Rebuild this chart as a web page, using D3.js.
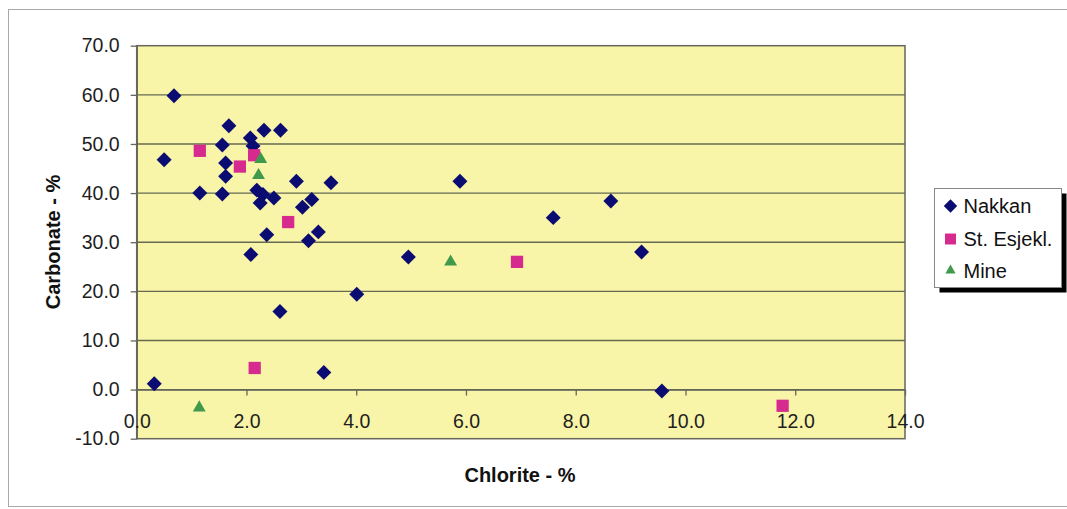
<!DOCTYPE html>
<html>
<head>
<meta charset="utf-8">
<script src="https://cdn.jsdelivr.net/npm/d3@7"></script>
<style>
  body { margin: 0; background: #fff; }
  svg { display: block; font-family: "Liberation Sans", Arial, sans-serif; }
</style>
</head>
<body>
<div id="chart"></div>
<script>
// Series values (chlorite %, carbonate %)
var nakkanX = [0.32, 0.50, 0.68, 1.15, 1.56, 1.56, 1.62, 1.62, 1.68, 2.07, 2.12, 2.08, 2.19, 2.30, 2.25, 2.32, 2.37,
               2.50, 2.61, 2.62, 2.91, 3.02, 3.13, 3.19, 3.31, 3.41, 3.54, 4.01, 4.95, 5.89, 7.59, 8.64, 9.20, 9.57];
var nakkanY = [1.2, 46.8, 59.8, 40.0, 49.8, 39.8, 46.1, 43.4, 53.7, 51.2, 49.6, 27.5, 40.6, 39.7, 38.0, 52.8, 31.5,
               39.0, 15.9, 52.8, 42.4, 37.1, 30.3, 38.7, 32.1, 3.5, 42.1, 19.4, 27.0, 42.4, 35.0, 38.4, 28.0, -0.3];
var esjeklX = [1.15, 1.88, 2.14, 2.15, 2.76, 6.93, 11.77];
var esjeklY = [48.6, 45.4, 47.7, 4.4, 34.1, 26.0, -3.3];
var mineX = [1.14, 2.26, 2.22, 5.72];
var mineY = [-3.7, 46.9, 43.6, 26.0];

var seriesNames = ['Nakkan', 'St. Esjekl.', 'Mine'];
var xTicks = [0, 2, 4, 6, 8, 10, 12, 14];
var yTicks = [-10, 0, 10, 20, 30, 40, 50, 60, 70];

var W = 1067, H = 509;
var plotL = 136.7, plotR = 905, plotT = 45.7, plotB = 438.7;

var colors = { 'Nakkan': '#0b0c72', 'St. Esjekl.': '#d62a8e', 'Mine': '#3f9a4c' };
var shapes = { 'Nakkan': 'diamond', 'St. Esjekl.': 'square', 'Mine': 'triangle' };

var series = [
  { name: 'Nakkan', pts: nakkanX.map(function(x, i) { return { x: x, y: nakkanY[i] }; }) },
  { name: 'St. Esjekl.', pts: esjeklX.map(function(x, i) { return { x: x, y: esjeklY[i] }; }) },
  { name: 'Mine', pts: mineX.map(function(x, i) { return { x: x, y: mineY[i] }; }) }
];

var svg = d3.select('#chart').append('svg')
  .attr('width', W).attr('height', H);

// chart frame
svg.append('rect')
  .attr('x', 8.5).attr('y', 9.5).attr('width', W + 10).attr('height', 497)
  .attr('fill', '#fff').attr('stroke', '#a9a9a9').attr('stroke-width', 1);

var x = d3.scaleLinear().domain([0, 14]).range([plotL, plotR]);
var y = d3.scaleLinear().domain([-10, 70]).range([plotB, plotT]);

// plot area
svg.append('rect')
  .attr('x', plotL).attr('y', plotT)
  .attr('width', plotR - plotL).attr('height', plotB - plotT)
  .attr('fill', '#f8f4a8');

// gridlines
svg.append('g').selectAll('line')
  .data(yTicks.filter(function(d) { return d > -10 && d < 70; }))
  .enter().append('line')
  .attr('x1', plotL).attr('x2', plotR)
  .attr('y1', function(d) { return y(d); }).attr('y2', function(d) { return y(d); })
  .attr('stroke', '#656a50').attr('stroke-width', 1.4);

// plot border
svg.append('rect')
  .attr('x', plotL).attr('y', plotT)
  .attr('width', plotR - plotL).attr('height', plotB - plotT)
  .attr('fill', 'none').attr('stroke', '#66665c').attr('stroke-width', 1.5);

var fmt = function(d) { return d.toFixed(1); };

var y_axis = d3.axisLeft(y)
  .tickValues(yTicks)
  .tickFormat(fmt)
  .tickSizeInner(6)
  .tickSizeOuter(0)
  .tickPadding(11);

var yg = svg.append('g')
  .attr('transform', 'translate(' + plotL + ',0)')
  .call(y_axis);

var x_axis = d3.axisBottom(x)
  .tickValues(xTicks)
  .tickFormat(fmt)
  .tickSizeInner(6)
  .tickSizeOuter(0)
  .tickPadding(19);

var xg = svg.append('g')
  .attr('transform', 'translate(0,' + y(0) + ')')
  .call(x_axis);

[xg, yg].forEach(function(g) {
  g.select('.domain').attr('stroke', '#66665c').attr('stroke-width', 1.5);
  g.selectAll('.tick line').attr('stroke', '#66665c').attr('stroke-width', 1.3);
  g.selectAll('.tick text')
    .attr('fill', '#1e1e1e')
    .style('font-size', '19.5px')
    .style('font-family', '"Liberation Sans", Arial, sans-serif');
});

// markers
function symbolFor(name) {
  if (shapes[name] === 'diamond') return d3.symbol().type(d3.symbolSquare).size(112)();
  if (shapes[name] === 'square') return d3.symbol().type(d3.symbolSquare).size(150)();
  return d3.symbol().type(d3.symbolTriangle).size(72)();
}

series.forEach(function(s) {
  svg.append('g').selectAll('path')
    .data(s.pts)
    .enter().append('path')
    .attr('d', symbolFor(s.name))
    .attr('transform', function(d) {
      return 'translate(' + x(d.x) + ',' + y(d.y) + ')' + (shapes[s.name] === 'diamond' ? ' rotate(45)' : '');
    })
    .attr('fill', colors[s.name]);
});

// axis titles
svg.append('text')
  .attr('x', 520).attr('y', 482)
  .attr('text-anchor', 'middle')
  .style('font-size', '20px').style('font-weight', 'bold')
  .attr('fill', '#111')
  .text('Chlorite - %');

svg.append('text')
  .attr('transform', 'translate(60,' + 242 + ') rotate(-90)')
  .attr('text-anchor', 'middle')
  .style('font-size', '20px').style('font-weight', 'bold')
  .attr('fill', '#111')
  .text('Carbonate - %');

// legend
var lg = svg.append('g').attr('transform', 'translate(934.5,188.5)');
lg.append('rect')
  .attr('x', 5).attr('y', 5).attr('width', 127).attr('height', 99)
  .attr('fill', '#000');
lg.append('rect')
  .attr('width', 127).attr('height', 99)
  .attr('fill', '#fff').attr('stroke', '#888').attr('stroke-width', 1);

var items = lg.selectAll('g.item')
  .data(seriesNames)
  .enter().append('g')
  .attr('class', 'item')
  .attr('transform', function(d, i) { return 'translate(0,' + [17.5, 50.5, 82][i] + ')'; });

items.append('path')
  .attr('d', function(d) {
    if (shapes[d] === 'diamond') return d3.symbol().type(d3.symbolSquare).size(90)();
    if (shapes[d] === 'square') return d3.symbol().type(d3.symbolSquare).size(120)();
    return d3.symbol().type(d3.symbolTriangle).size(45)();
  })
  .attr('transform', function(d) {
    return 'translate(16,0)' + (shapes[d] === 'diamond' ? ' rotate(45)' : '');
  })
  .attr('fill', function(d) { return colors[d]; });

items.append('text')
  .attr('x', 29).attr('dy', '0.36em')
  .style('font-size', '20px')
  .attr('fill', '#111')
  .text(function(d) { return d; });
</script>
</body>
</html>
